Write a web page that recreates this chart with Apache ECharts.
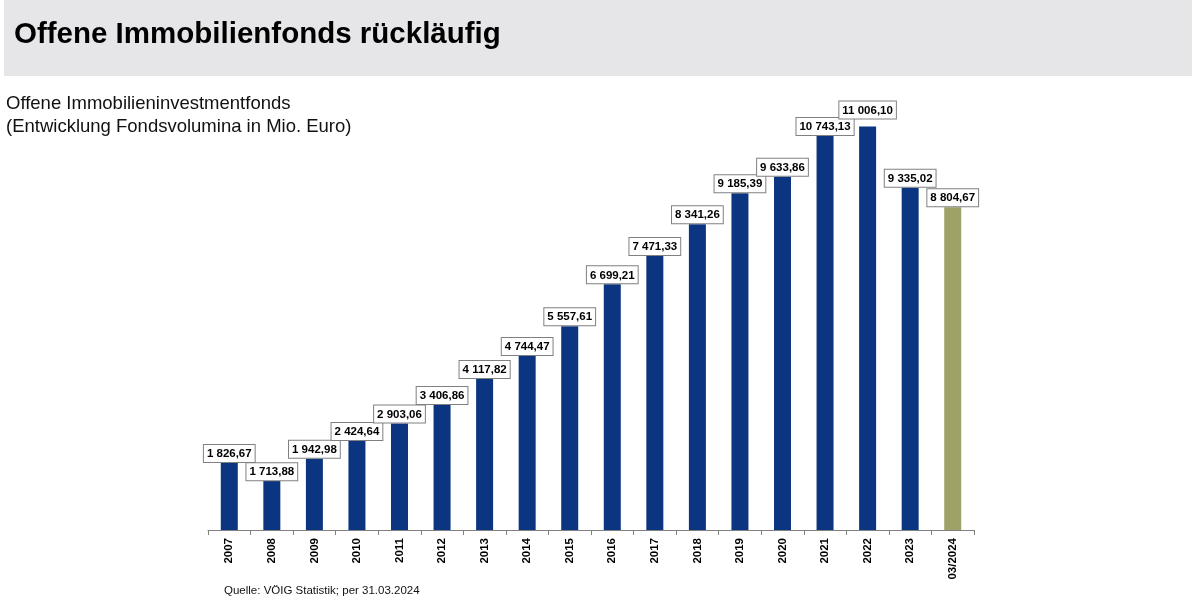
<!DOCTYPE html>
<html>
<head>
    <meta charset="utf-8">
    <title>Offene Immobilienfonds rückläufig</title>
    <script src="https://cdn.jsdelivr.net/npm/echarts@6/dist/echarts.min.js"></script>
    <style>
        html, body { margin: 0; padding: 0; background: #fff; }
        #chart { width: 1192px; height: 605px; }
    </style>
</head>
<body>
<div id="chart"></div>
<script>
    // Jahre / Stichtag
    var categories = ['2007', '2008', '2009', '2010', '2011', '2012', '2013', '2014', '2015',
        '2016', '2017', '2018', '2019', '2020', '2021', '2022', '2023', '03/2024'];
    // Fondsvolumina in Mio. Euro
    var volumes = [1826.67, 1713.88, 1942.98, 2424.64, 2903.06, 3406.86, 4117.82, 4744.47, 5557.61,
        6699.21, 7471.33, 8341.26, 9185.39, 9633.86, 10743.13, 11006.10, 9335.02, 8804.67];

    var navy = '#0b3580';
    var olive = '#9fa266';

    // 1 826,67 -> deutsche Schreibweise mit Leerzeichen als Tausendertrenner
    function fmt(v) {
        var parts = v.toFixed(2).split('.');
        return parts[0].replace(/\B(?=(\d{3})+(?!\d))/g, ' ') + ',' + parts[1];
    }

    var barData = volumes.map(function (v, i) {
        var item = {
            value: v,
            itemStyle: { color: i === volumes.length - 1 ? olive : navy }
        };
        // Beschriftungen, die in der Vorlage verschoben sind
        if (i === 1) {
            item.label = { offset: [0, 14] };
        }
        if (i === 15) {
            item.label = { offset: [0, -7] };
        }
        return item;
    });

    var chart = echarts.init(document.getElementById('chart'));
    chart.setOption({
        animation: false,
        graphic: [
            {
                type: 'rect',
                shape: { x: 4, y: 0, width: 1188, height: 76 },
                style: { fill: '#e6e6e9' }
            },
            {
                type: 'text',
                left: 14, top: 20,
                style: {
                    text: 'Offene Immobilienfonds rückläufig',
                    font: 'bold 29.5px "Liberation Sans", Arial, sans-serif',
                    fill: '#000'
                }
            },
            {
                type: 'text',
                left: 6, top: 92,
                style: {
                    text: 'Offene Immobilieninvestmentfonds\n(Entwicklung Fondsvolumina in Mio. Euro)',
                    font: '18.5px "Liberation Sans", Arial, sans-serif',
                    lineHeight: 23,
                    fill: '#111'
                }
            },
            {
                type: 'text',
                left: 224, top: 585,
                style: {
                    text: 'Quelle: VÖIG Statistik; per 31.03.2024',
                    font: '11.5px "Liberation Sans", Arial, sans-serif',
                    fill: '#111'
                }
            }
        ],
        grid: { left: 208, right: 218, top: 90, bottom: 75 },
        xAxis: {
            type: 'category',
            data: categories,
            boundaryGap: true,
            axisLine: { show: true, lineStyle: { color: '#808080', width: 1 } },
            axisTick: {
                show: true,
                interval: 0,
                alignWithLabel: false,
                inside: false,
                length: 5,
                lineStyle: { color: '#808080', width: 1 }
            },
            axisLabel: {
                interval: 0,
                rotate: 90,
                margin: 8,
                color: '#000',
                fontWeight: 'bold',
                fontSize: 11.5,
                fontFamily: '"Liberation Sans", Arial, sans-serif'
            }
        },
        yAxis: {
            type: 'value',
            min: 0,
            max: 12000,
            show: false,
            splitLine: { show: false }
        },
        series: [{
            type: 'bar',
            data: barData,
            barWidth: 17,
            label: {
                show: true,
                position: 'top',
                distance: 1,
                formatter: function (p) { return fmt(p.value); },
                color: '#000',
                fontWeight: 'bold',
                fontSize: 11.5,
                fontFamily: '"Liberation Sans", Arial, sans-serif',
                backgroundColor: '#fff',
                borderColor: '#808080',
                borderWidth: 1,
                padding: [3, 3, 2, 3]
            }
        }]
    });
</script>
</body>
</html>
